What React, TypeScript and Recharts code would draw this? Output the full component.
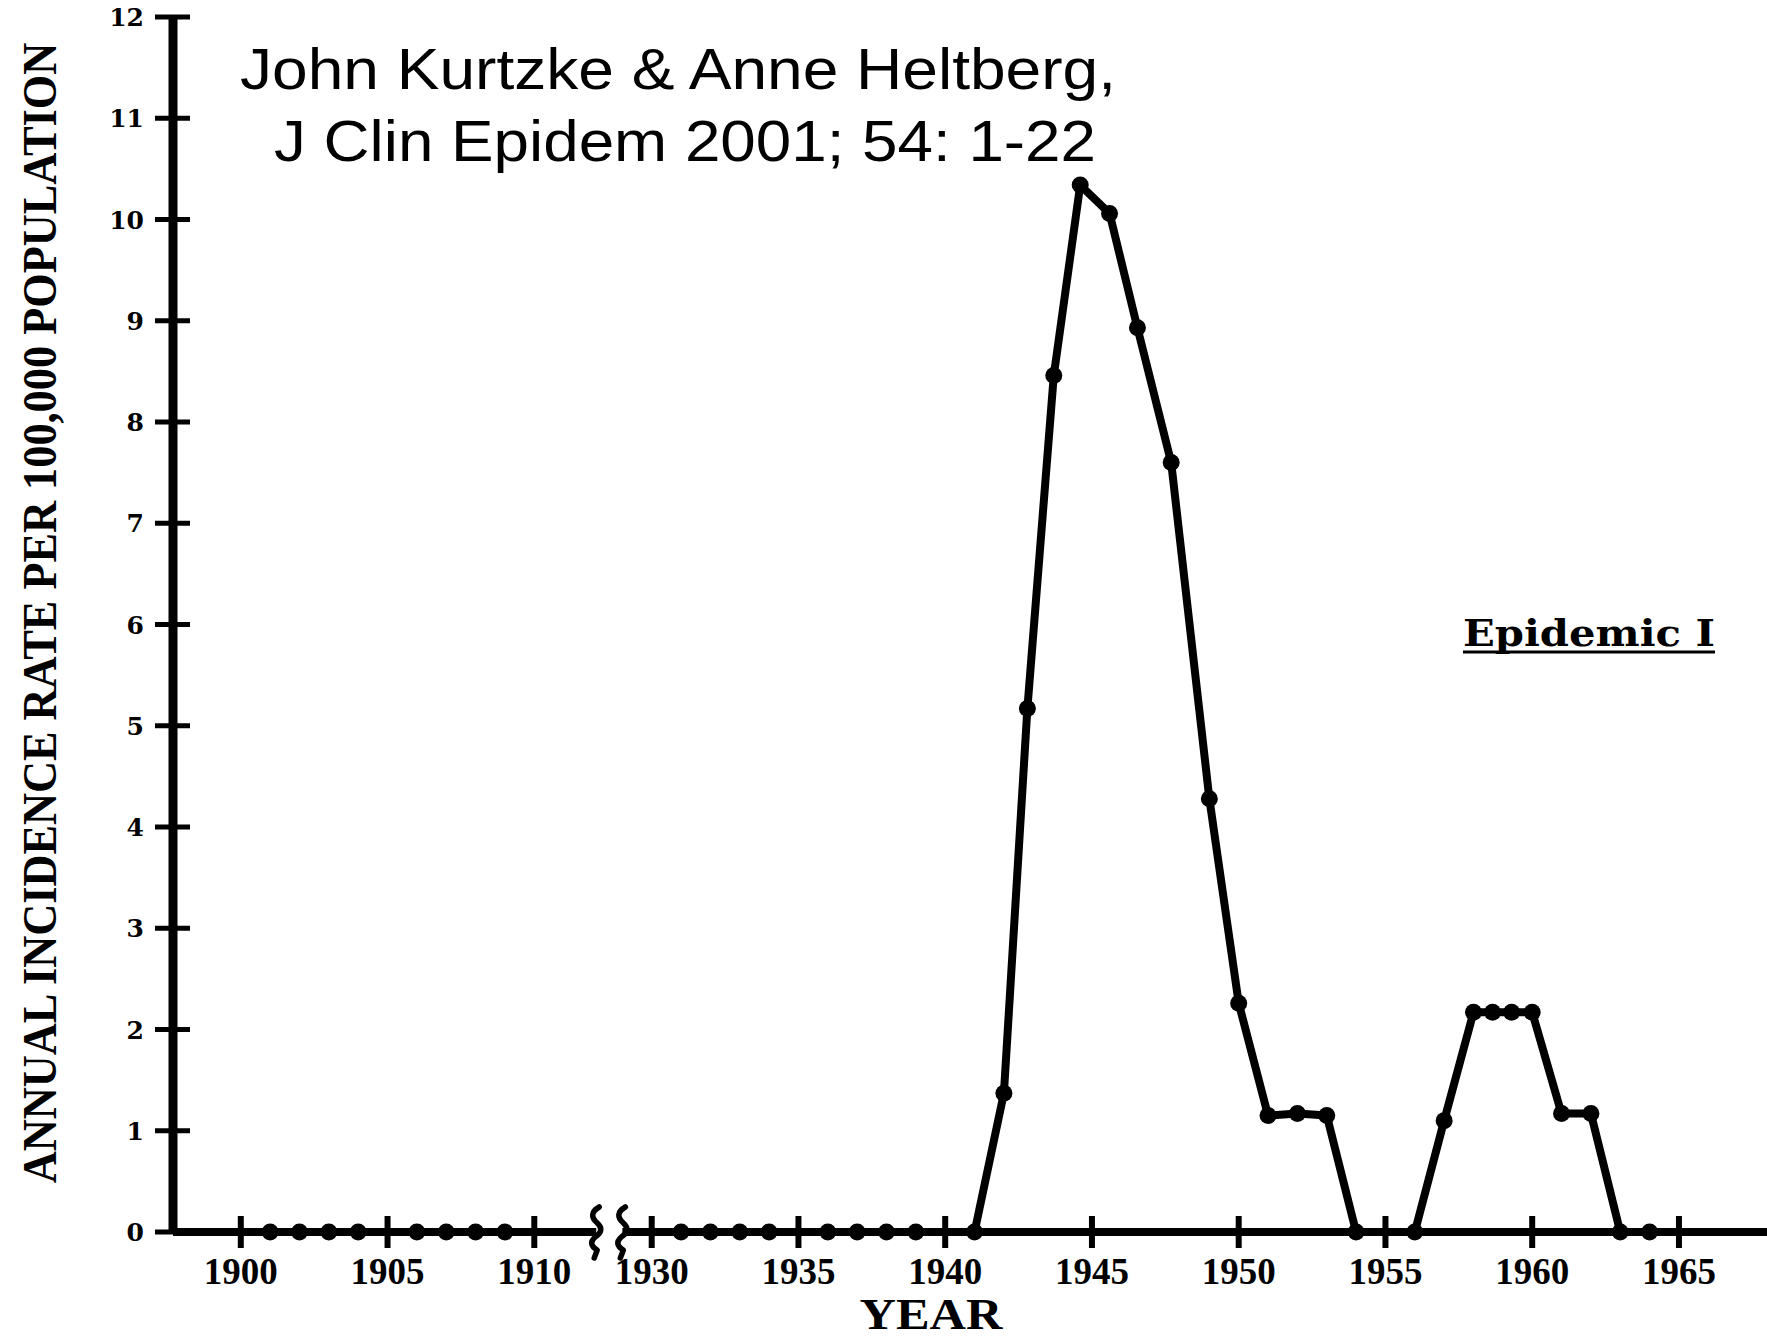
import React from 'react';
import { LineChart, Line, XAxis, YAxis, ReferenceLine, ReferenceDot } from 'recharts';

// points; the year axis is broken between 1911 and 1929
const earlyYears = [1901, 1902, 1903, 1904, 1906, 1907, 1908, 1909];
const earlyRates = [0, 0, 0, 0, 0, 0, 0, 0];

const lateYears = [
  1931, 1932, 1933, 1934, 1936, 1937, 1938, 1939, 1941, 1942, 1942.8, 1943.7, 1944.6, 1945.6, 1946.55, 1947.7,
  1949, 1950, 1951, 1952, 1953, 1954, 1956, 1957, 1958, 1958.65, 1959.3, 1960, 1961, 1962, 1963, 1964,
];
const lateRates = [
  0, 0, 0, 0, 0, 0, 0, 0, 0, 1.37, 5.17, 8.46, 10.34, 10.06, 8.93, 7.6,
  4.28, 2.26, 1.15, 1.17, 1.15, 0, 0, 1.1, 2.17, 2.17, 2.17, 2.17, 1.17, 1.17, 0, 0,
];

const tickYears = [1900, 1905, 1910, 1930, 1935, 1940, 1945, 1950, 1955, 1960, 1965];
const rateTicks = [0, 1, 2, 3, 4, 5, 6, 7, 8, 9, 10, 11, 12];

// years after the break are shifted so 1930 sits 4 years after 1910
const toPos = (year: number) => (year <= 1920 ? year - 1900 : year - 1916);

const early = earlyYears.map((yr, i) => ({ pos: toPos(yr), rate: earlyRates[i] }));
const late = lateYears.map((yr, i) => ({ pos: toPos(yr), rate: lateRates[i] }));
const tickPos = tickYears.map(toPos);

const W = 1767;
const H = 1340;
const X_DOMAIN: [number, number] = [-2.31, 52];
const BREAK_A = 12.11;
const BREAK_B = 13.0;

const serif = '"Liberation Serif", "Times New Roman", serif';
const heavySerif = '"DejaVu Serif", serif';
const sans = '"Liberation Sans", Arial, sans-serif';

const YTick = ({ x, y, payload }: any) => (
  <g>
    <line x1={x - 18} x2={x + 17} y1={y} y2={y} stroke="#000" strokeWidth={5} />
    <text x={x - 29} y={y + 9} textAnchor="end" fontFamily={heavySerif} fontWeight="bold" fontSize={25} fill="#000">
      {payload.value}
    </text>
  </g>
);

const XTick = ({ x, y, payload }: any) => {
  const label = tickYears[tickPos.indexOf(payload.value)];
  return (
    <g>
      <line x1={x} x2={x} y1={y - 16} y2={y + 16} stroke="#000" strokeWidth={6} />
      <text x={x} y={y + 52} textAnchor="middle" fontFamily={serif} fontWeight="bold" fontSize={37} fill="#000">
        {label}
      </text>
    </g>
  );
};

const Squiggle = ({ cx, cy }: any) => (
  <path
    d={`M ${cx + 3} ${cy - 25} Q ${cx - 9} ${cy - 18} ${cx + 1} ${cy - 9} Q ${cx + 9} ${cy - 2} ${cx - 1} ${cy + 5} Q ${cx - 9} ${cy + 12} ${cx + 1} ${cy + 18} L ${cx - 2} ${cy + 26}`}
    fill="none"
    stroke="#000"
    strokeWidth={5.5}
    strokeLinejoin="round"
    strokeLinecap="round"
  />
);

export default function App() {
  return (
    <div style={{ position: 'absolute', left: 0, top: 0, width: W, height: H, background: '#fff' }}>
      <LineChart width={W} height={H} margin={{ top: 17, right: 0, bottom: 0, left: 0 }}>
        <XAxis
          type="number"
          dataKey="pos"
          domain={X_DOMAIN}
          ticks={tickPos}
          interval={0}
          height={108}
          axisLine={false}
          tickLine={false}
          tickSize={0}
          tickMargin={0}
          tick={<XTick />}
          allowDataOverflow
        />
        <YAxis
          type="number"
          domain={[0, 12]}
          ticks={rateTicks}
          interval={0}
          width={173}
          axisLine={{ stroke: '#000', strokeWidth: 9 }}
          tickLine={false}
          tickSize={0}
          tickMargin={0}
          tick={<YTick />}
        />
        <ReferenceLine segment={[{ x: X_DOMAIN[0], y: 0 }, { x: BREAK_A, y: 0 }]} stroke="#000" strokeWidth={8} ifOverflow="visible" />
        <ReferenceLine segment={[{ x: BREAK_B, y: 0 }, { x: X_DOMAIN[1], y: 0 }]} stroke="#000" strokeWidth={8} ifOverflow="visible" />
        <ReferenceDot x={BREAK_A} y={0} r={1} shape={Squiggle} ifOverflow="visible" />
        <ReferenceDot x={BREAK_B} y={0} r={1} shape={Squiggle} ifOverflow="visible" />
        <Line
          data={early}
          dataKey="rate"
          type="linear"
          stroke="#000"
          strokeWidth={8}
          dot={{ r: 8.5, fill: '#000', stroke: 'none' }}
          activeDot={false}
          isAnimationActive={false}
        />
        <Line
          data={late}
          dataKey="rate"
          type="linear"
          stroke="#000"
          strokeWidth={8}
          strokeLinejoin="round"
          dot={{ r: 8.5, fill: '#000', stroke: 'none' }}
          activeDot={false}
          isAnimationActive={false}
        />
      </LineChart>
      <svg width={W} height={H} style={{ position: 'absolute', left: 0, top: 0, pointerEvents: 'none' }}>
        <text
          x={0}
          y={0}
          transform="translate(56, 613) rotate(-90) scale(0.86, 1)"
          textAnchor="middle"
          fontFamily={serif}
          fontWeight="bold"
          fontSize={48}
          textLength={1326}
          lengthAdjust="spacingAndGlyphs"
          fill="#000"
        >
          ANNUAL INCIDENCE RATE PER 100,000 POPULATION
        </text>
        <text x={931} y={1329} textAnchor="middle" fontFamily={serif} fontWeight="bold" fontSize={44} textLength={143} lengthAdjust="spacingAndGlyphs" fill="#000">
          YEAR
        </text>
        <text x={240} y={89} fontFamily={sans} fontSize={57} textLength={876} lengthAdjust="spacingAndGlyphs" fill="#000">
          John Kurtzke &amp; Anne Heltberg,
        </text>
        <text x={274} y={161} fontFamily={sans} fontSize={57} textLength={822} lengthAdjust="spacingAndGlyphs" fill="#000">
          J Clin Epidem 2001; 54: 1-22
        </text>
        <text x={1463} y={646} fontFamily={heavySerif} fontWeight="bold" fontSize={37} textLength={252} lengthAdjust="spacingAndGlyphs" fill="#000">
          Epidemic I
        </text>
        <line x1={1463} x2={1715} y1={652} y2={652} stroke="#000" strokeWidth={3} />
      </svg>
    </div>
  );
}
